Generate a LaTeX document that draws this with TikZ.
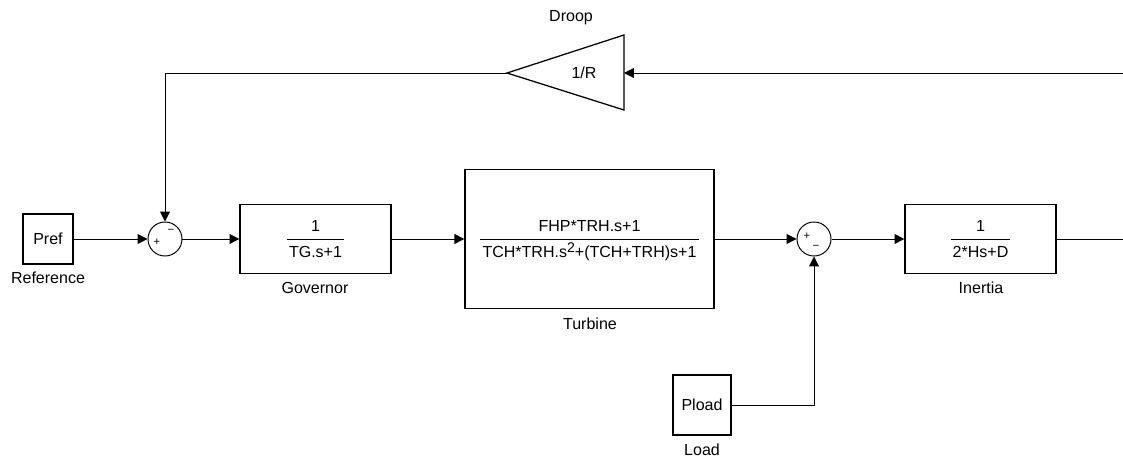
\documentclass[tikz,border=0pt]{standalone}
\usepackage{fontspec}
\setmainfont{Liberation Sans}
\usetikzlibrary{arrows.meta}
\newcommand{\blkfrac}[2]{{\setlength{\tabcolsep}{1.5pt}\renewcommand{\arraystretch}{1.35}\begin{tabular}{c}#1\\\hline #2\end{tabular}}}

\begin{document}
\begin{tikzpicture}[x=0.025cm, y=-0.025cm, line width=0.7pt,
  >={Triangle[length=7pt,width=7pt]},
  font=\fontsize{11.4}{13.5}\selectfont,
  blk/.style={draw, line width=0.9pt, inner sep=0pt, fill=white},
  sumnode/.style={draw, circle, minimum size=0.85cm, inner sep=0pt},
  sgn/.style={font=\fontsize{8}{9}\selectfont, inner sep=0pt}]
\useasboundingbox (0,0) rectangle (1123,459);

\node [blk, minimum size=1.25cm] (pref) at (48,239) {Pref};
\node (refl) at (48,278) {Reference};
\node [sumnode] (s1) at (165,239) {};
\node [sgn] (s1p) at (157,242) {+};
\node [sgn] (s1m) at (171,231) {−};
\node [blk, minimum width=3.775cm, minimum height=1.725cm] (gov) at (315.5,239) {\blkfrac{1}{TG.s+1}};
\node (govl) at (315,288) {Governor};
\node [blk, minimum width=6.225cm, minimum height=3.475cm] (tur) at (589.5,239) {\blkfrac{FHP*TRH.s+1}{TCH*TRH.s\raisebox{0.55ex}{\fontsize{10}{11}\selectfont 2}+(TCH+TRH)s+1}};
\node (turl) at (590,324) {Turbine};
\node [sumnode] (s2) at (814,239) {};
\node [sgn] (s2p) at (807,236) {+};
\node [sgn] (s2m) at (816,247) {−};
\node [blk, minimum width=3.775cm, minimum height=1.725cm] (ine) at (980.5,239) {\blkfrac{1}{2*Hs+D}};
\node (inel) at (981,288) {Inertia};
\node [blk, minimum width=1.45cm, minimum height=1.5cm] (pload) at (702,405) {Pload};
\node (loadl) at (702,450) {Load};

\coordinate (dtip) at (507,73);
\coordinate (dbase) at (624,73);
\draw [line width=0.9pt] (624,35) -- (dtip) -- (624,110) -- cycle;
\node (droop) at (584,73) {1/R};
\node (droopl) at (571,18) {Droop};
\coordinate (fb) at (1123,73);
\coordinate (yout) at (1123,239);

\draw [->] (pref) -- (s1);
\draw [->] (s1) -- (gov);
\draw [->] (gov) -- (tur);
\draw [->] (tur) -- (s2);
\draw [->] (s2) -- (ine);
\draw (ine) -- (yout);
\draw [->] (fb) -- (dbase);
\draw [->] (dtip) -| (s1.north);
\draw [->] (pload) -| (s2.south);
\end{tikzpicture}
\end{document}
